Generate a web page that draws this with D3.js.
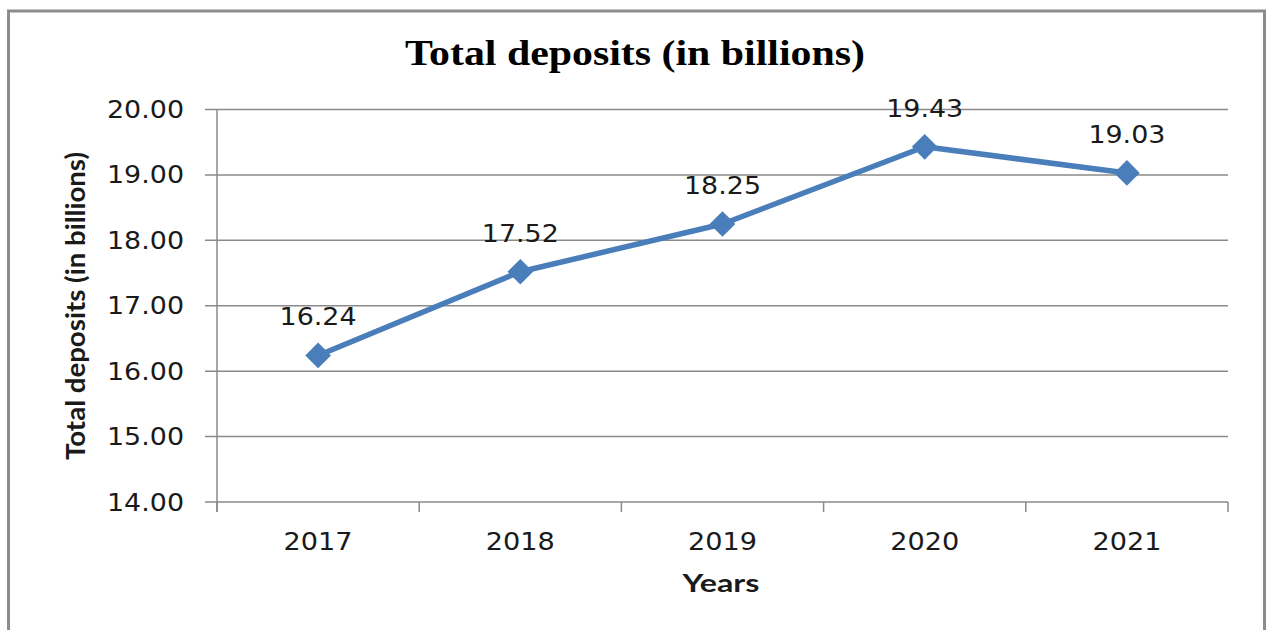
<!DOCTYPE html>
<html>
<head>
<meta charset="utf-8">
<script src="https://cdn.jsdelivr.net/npm/d3@7"></script>
<style>
  html, body { margin: 0; padding: 0; background: #fff; }
  svg { display: block; }
</style>
</head>
<body>
<svg id="chart" width="1266" height="630"></svg>
<script>
// Total deposits per year, in billions
const years = ["2017", "2018", "2019", "2020", "2021"];
const deposits = [16.24, 17.52, 18.25, 19.43, 19.03];
const yTicks = [14, 15, 16, 17, 18, 19, 20];

const svg = d3.select("#chart");
const W = 1266, H = 630;
const plot = { left: 217, right: 1228, top: 109.5, bottom: 502 };
const lineBlue = "#4a7ebb";
const gridGray = "#8a8a8a";
const textColor = "#1a1a1a";
const numFont = "DejaVu Sans, Verdana, sans-serif";

svg.append("rect").attr("width", W).attr("height", H).attr("fill", "#fff");

// outer frame
svg.append("rect")
  .attr("x", 8.5).attr("y", 11)
  .attr("width", 1256).attr("height", 640)
  .attr("fill", "none")
  .attr("stroke", "#8c8c8c")
  .attr("stroke-width", 3);

const x = d3.scaleBand().domain(years).range([plot.left, plot.right]).padding(0);
const y = d3.scaleLinear().domain([14, 20]).range([plot.bottom, plot.top]);

// horizontal gridlines, extending past the axis as outside ticks
svg.append("g")
  .selectAll("line")
  .data(yTicks)
  .join("line")
  .attr("x1", plot.left - 12).attr("x2", plot.right)
  .attr("y1", d => y(d)).attr("y2", d => y(d))
  .attr("stroke", gridGray).attr("stroke-width", 1.5);

// y axis
const yAxis = svg.append("g")
  .attr("transform", `translate(${plot.left},0)`)
  .call(d3.axisLeft(y).tickValues(yTicks).tickFormat(d3.format(".2f")).tickSize(12).tickPadding(21));
yAxis.select(".domain").remove();
yAxis.selectAll(".tick line").remove();
yAxis.selectAll("text")
  .attr("fill", textColor)
  .style("font-family", numFont)
  .style("font-size", "25px")
  .attr("textLength", 77)
  .attr("lengthAdjust", "spacingAndGlyphs");

// vertical axis line
svg.append("line")
  .attr("x1", plot.left).attr("x2", plot.left)
  .attr("y1", plot.top).attr("y2", plot.bottom + 10)
  .attr("stroke", gridGray).attr("stroke-width", 1.5);

// x axis with ticks at the category boundaries
const boundaries = years.map(d => x(d)).concat([x(years[years.length - 1]) + x.bandwidth()]);
svg.append("g")
  .selectAll("line")
  .data(boundaries)
  .join("line")
  .attr("x1", d => d).attr("x2", d => d)
  .attr("y1", plot.bottom).attr("y2", plot.bottom + 10)
  .attr("stroke", gridGray).attr("stroke-width", 1.5);

svg.append("g")
  .selectAll("text")
  .data(years)
  .join("text")
  .attr("x", d => x(d) + x.bandwidth() / 2)
  .attr("y", 550)
  .attr("text-anchor", "middle")
  .attr("fill", textColor)
  .style("font-family", numFont)
  .style("font-size", "25px")
  .attr("textLength", 69)
  .attr("lengthAdjust", "spacingAndGlyphs")
  .text(d => d);

// data line
const pts = years.map((yr, i) => ({ year: yr, value: deposits[i] }));
const line = d3.line()
  .x(d => x(d.year) + x.bandwidth() / 2)
  .y(d => y(d.value));

svg.append("path")
  .datum(pts)
  .attr("d", line)
  .attr("fill", "none")
  .attr("stroke", lineBlue)
  .attr("stroke-width", 5.5)
  .attr("stroke-linejoin", "round");

// diamond markers
const diamond = d3.symbol().type(d3.symbolSquare).size(330);
svg.append("g")
  .selectAll("path")
  .data(pts)
  .join("path")
  .attr("d", diamond)
  .attr("transform", d => `translate(${x(d.year) + x.bandwidth() / 2},${y(d.value)}) rotate(45)`)
  .attr("fill", lineBlue);

// value labels
svg.append("g")
  .selectAll("text")
  .data(pts)
  .join("text")
  .attr("x", d => x(d.year) + x.bandwidth() / 2)
  .attr("y", d => y(d.value) - 30)
  .attr("text-anchor", "middle")
  .attr("fill", textColor)
  .style("font-family", numFont)
  .style("font-size", "25px")
  .attr("textLength", 77)
  .attr("lengthAdjust", "spacingAndGlyphs")
  .text(d => d.value.toFixed(2));

// chart title
svg.append("text")
  .attr("x", 635).attr("y", 65)
  .attr("text-anchor", "middle")
  .attr("fill", "#000")
  .style("font-family", "Liberation Serif, Times New Roman, serif")
  .style("font-weight", "bold")
  .style("font-size", "35px")
  .attr("textLength", 460)
  .attr("lengthAdjust", "spacingAndGlyphs")
  .text("Total deposits (in billions)");

// axis titles
svg.append("text")
  .attr("transform", "translate(85,306) rotate(-90)")
  .attr("text-anchor", "middle")
  .attr("fill", textColor)
  .style("font-family", "Lato, Open Sans, sans-serif")
  .style("font-weight", "bold")
  .style("font-size", "26px")
  .attr("textLength", 308)
  .attr("lengthAdjust", "spacingAndGlyphs")
  .text("Total deposits (in billions)");

svg.append("text")
  .attr("x", 721).attr("y", 592)
  .attr("text-anchor", "middle")
  .attr("fill", textColor)
  .style("font-family", "Lato, Open Sans, sans-serif")
  .style("font-weight", "bold")
  .style("font-size", "25px")
  .attr("textLength", 77)
  .attr("lengthAdjust", "spacingAndGlyphs")
  .text("Years");
</script>
</body>
</html>
